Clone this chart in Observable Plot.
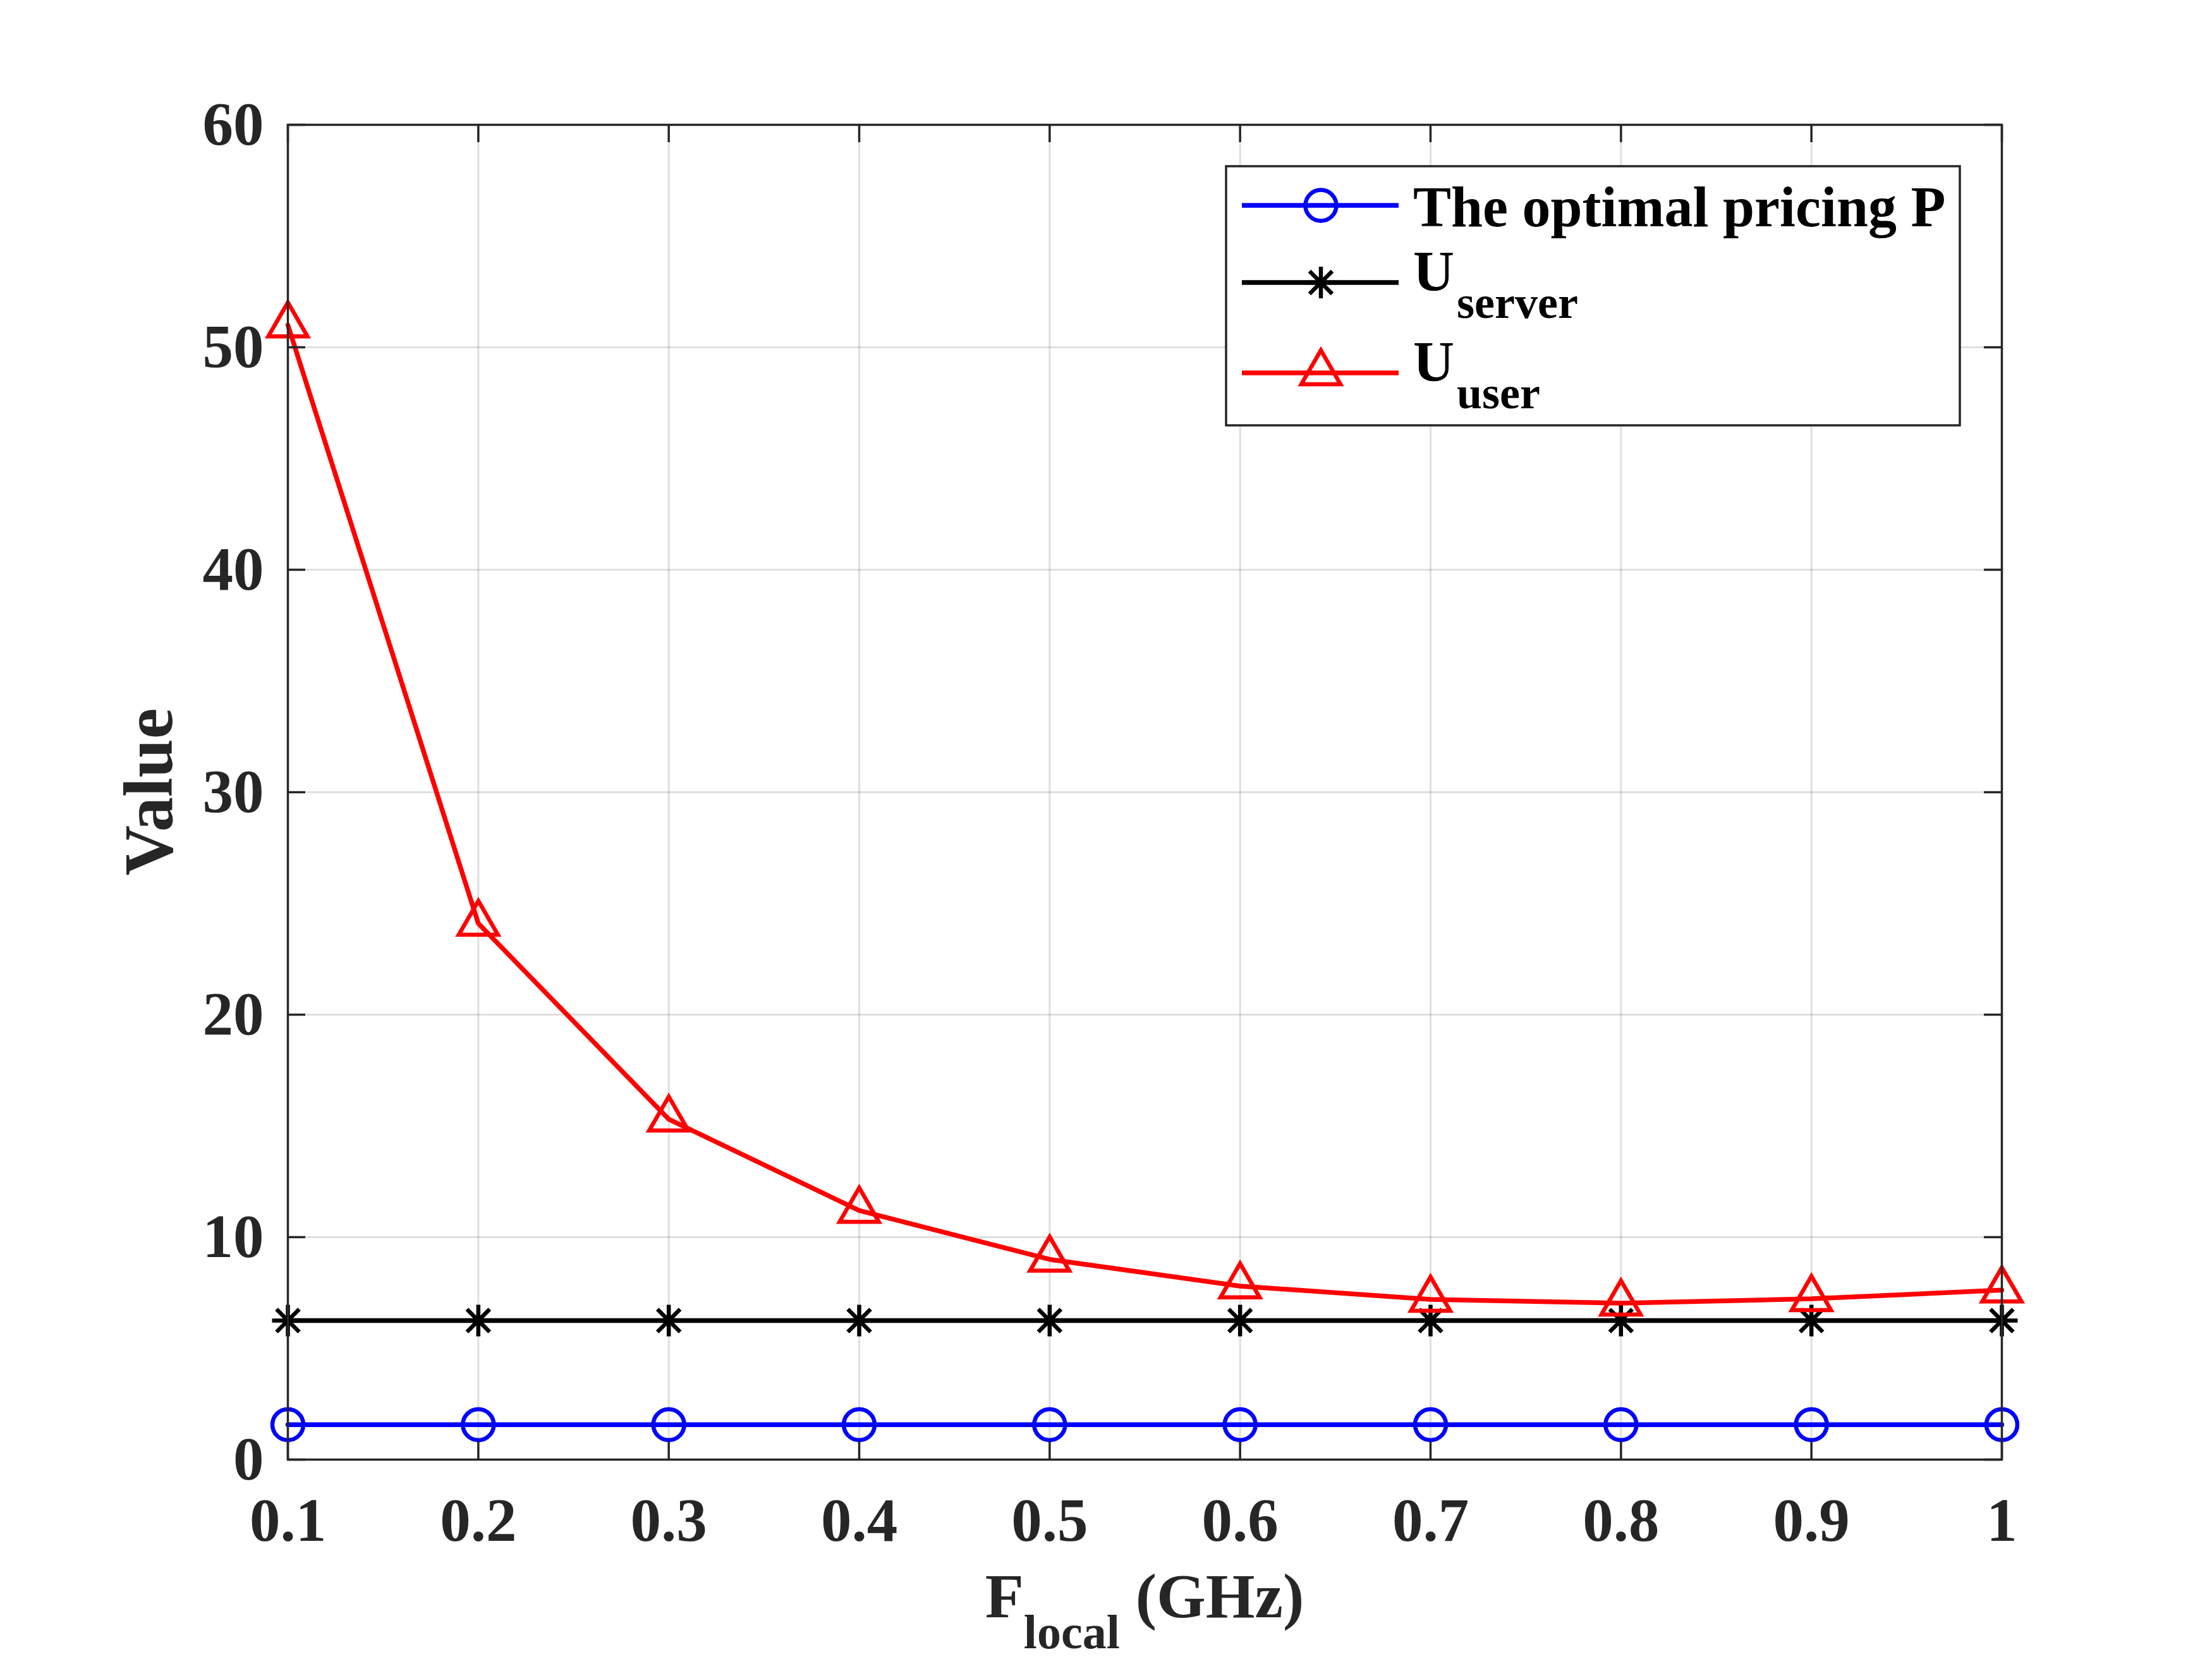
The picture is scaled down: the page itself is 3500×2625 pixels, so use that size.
<!DOCTYPE html>
<html><head><meta charset="utf-8">
<script src="https://cdn.jsdelivr.net/npm/d3@7"></script>
<script src="https://cdn.jsdelivr.net/npm/@observablehq/plot@0.6"></script>
<style>html,body{margin:0;padding:0;background:#fff;} svg{display:block}</style>
</head><body><div id="chart"></div>
<script>
// ---- data ----
const fLocal   = [0.1, 0.2, 0.3, 0.4, 0.5, 0.6, 0.7, 0.8, 0.9, 1.0];
const pricing  = [1.57, 1.57, 1.57, 1.57, 1.57, 1.57, 1.57, 1.57, 1.57, 1.57];
const uServer  = [6.25, 6.25, 6.25, 6.25, 6.25, 6.25, 6.25, 6.25, 6.25, 6.25];
const uUser    = [51.0, 24.1, 15.3, 11.2, 9.0, 7.8, 7.2, 7.03, 7.23, 7.62];
const xTicks   = [0.1, 0.2, 0.3, 0.4, 0.5, 0.6, 0.7, 0.8, 0.9, 1.0];
const xTickLabels = ["0.1","0.2","0.3","0.4","0.5","0.6","0.7","0.8","0.9","1"];
const yTicks   = [0, 10, 20, 30, 40, 50, 60];
const legendMain = ["The optimal pricing P", "U", "U"];
const legendSub  = ["", "server", "user"];
const yLabel = "Value";
const xLabelMain = "F", xLabelSub = "local", xLabelUnit = " (GHz)";

// ---- layout / style ----
const W = 3500, H = 2625;
const mL = 455, mR = 333, mT = 197, mB = 316;
const plotW = W - mL - mR, plotH = H - mT - mB;
const axisColor = "#262626";
const tickLen = 28;
const lineW = 7.5, markW = 6.5;

const asterisk = {
  draw(ctx, size) {
    const r = Math.sqrt(size / Math.PI);
    const d = r * 0.72;
    ctx.moveTo(0, -r); ctx.lineTo(0, r);
    ctx.moveTo(-r, 0); ctx.lineTo(r, 0);
    ctx.moveTo(-d, -d); ctx.lineTo(d, d);
    ctx.moveTo(-d, d); ctx.lineTo(d, -d);
  }
};

const series = [
  {values: pricing, color: "#0000ff", symbol: "circle", r: 24.5},
  {values: uServer, color: "#000000", symbol: asterisk, r: 25},
  {values: uUser,   color: "#ff0000", symbol: "triangle", r: 23}
];
const rows = series.map(s => fLocal.map((x, i) => ({x, y: s.values[i]})));

const marks = [
  Plot.ruleX(xTicks, {x: d => d, stroke: axisColor, strokeOpacity: 0.15, strokeWidth: 3}),
  Plot.ruleY(yTicks, {y: d => d, stroke: axisColor, strokeOpacity: 0.15, strokeWidth: 3})
];
series.forEach((s, k) => {
  marks.push(Plot.line(rows[k], {x: "x", y: "y", stroke: s.color, strokeWidth: lineW}));
  marks.push(Plot.dot(rows[k], {x: "x", y: "y", symbol: s.symbol, r: s.r, stroke: s.color, strokeWidth: markW, fill: "none", strokeLinejoin: "miter"}));
});
marks.push(
  Plot.frame({stroke: axisColor, strokeWidth: 3.5}),
  Plot.ruleX(xTicks, {x: d => d, insetTop: plotH - tickLen, stroke: axisColor, strokeWidth: 3.5}),
  Plot.ruleX(xTicks, {x: d => d, insetBottom: plotH - tickLen, stroke: axisColor, strokeWidth: 3.5}),
  Plot.ruleY(yTicks, {y: d => d, insetRight: plotW - tickLen, stroke: axisColor, strokeWidth: 3.5}),
  Plot.ruleY(yTicks, {y: d => d, insetLeft: plotW - tickLen, stroke: axisColor, strokeWidth: 3.5}),
  Plot.axisX({ticks: xTicks, tickSize: 0, tickPadding: 60, tickFormat: d => xTickLabels[xTicks.indexOf(d)], fontSize: 97, label: null}),
  Plot.axisY({ticks: yTicks, tickSize: 0, tickPadding: 38, fontSize: 97, label: null})
);

const svgEl = Plot.plot({
  width: W, height: H,
  marginLeft: mL, marginRight: mR, marginTop: mT, marginBottom: mB,
  x: {domain: [0.1, 1]},
  y: {domain: [0, 60]},
  style: {fontFamily: '"Liberation Serif", "Times New Roman", serif', fontWeight: "bold", background: "white", color: axisColor, overflow: "visible"},
  marks
});
document.getElementById("chart").appendChild(svgEl);

// ---- axis labels & legend ----
const svg = d3.select(svgEl);
const font = '"Liberation Serif", "Times New Roman", serif';

svg.append("text")
  .attr("transform", `translate(272,${mT + plotH / 2}) rotate(-90)`)
  .attr("text-anchor", "middle").attr("font-family", font).attr("font-weight", "bold")
  .attr("font-size", 110).attr("fill", axisColor).text(yLabel);

const xl = svg.append("text")
  .attr("x", mL + plotW / 2).attr("y", 2559)
  .attr("text-anchor", "middle").attr("font-family", font).attr("font-weight", "bold")
  .attr("font-size", 100).attr("fill", axisColor);
xl.append("tspan").text(xLabelMain);
xl.append("tspan").attr("font-size", 76).attr("dy", 49).text(xLabelSub);
xl.append("tspan").attr("dy", -49).text(xLabelUnit);

const lg = svg.append("g");
lg.append("rect").attr("x", 1940).attr("y", 263).attr("width", 1161).attr("height", 410)
  .attr("fill", "white").attr("stroke", axisColor).attr("stroke-width", 3.5);
const rowY = [325, 447, 590];
const textY = [358, 460, 603];
series.forEach((s, k) => {
  lg.append("line").attr("x1", 1965).attr("x2", 2213).attr("y1", rowY[k]).attr("y2", rowY[k])
    .attr("stroke", s.color).attr("stroke-width", lineW);
  const sym = s.symbol === "circle" ? d3.symbolCircle : s.symbol === "triangle" ? d3.symbolTriangle : s.symbol;
  lg.append("path").attr("transform", `translate(2090,${rowY[k]})`)
    .attr("d", d3.symbol(sym, s.r * s.r * Math.PI)())
    .attr("fill", "none").attr("stroke", s.color).attr("stroke-width", markW)
    .attr("stroke-linejoin", "miter");
  const t = lg.append("text").attr("x", 2236).attr("y", textY[k]).attr("text-anchor", "start")
    .attr("font-family", font).attr("font-weight", "bold").attr("font-size", 90).attr("fill", "black");
  t.append("tspan").text(legendMain[k]);
  if (legendSub[k]) t.append("tspan").attr("font-size", 72).attr("dy", 43).attr("dx", 4).text(legendSub[k]);
});
</script>
</body></html>
